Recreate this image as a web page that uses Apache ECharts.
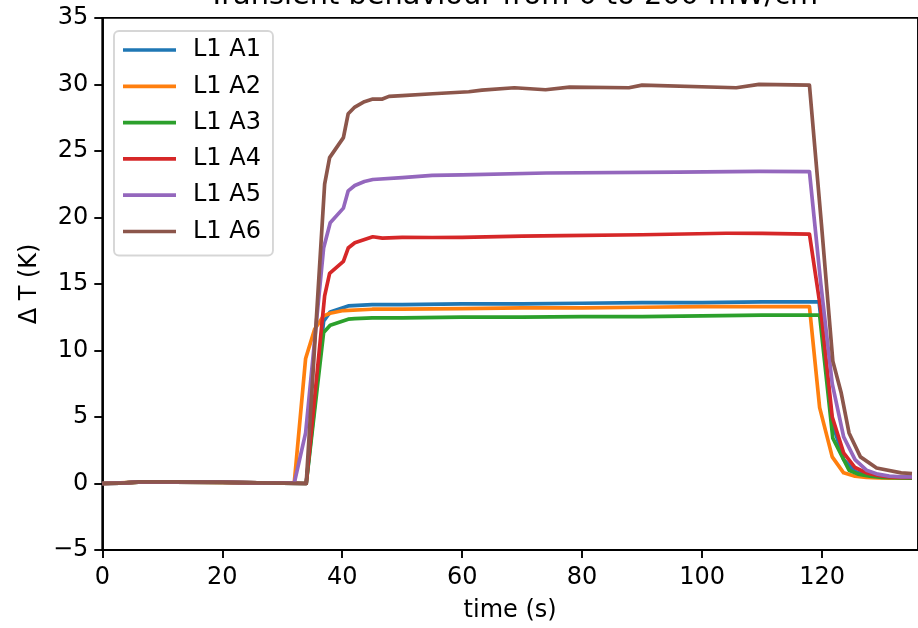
<!DOCTYPE html>
<html>
<head>
<meta charset="utf-8">
<script src="https://cdn.jsdelivr.net/npm/echarts@6/dist/echarts.min.js"></script>
<style>
html,body{margin:0;padding:0;background:#ffffff;}
#chart{width:918px;height:628px;}
</style>
</head>
<body>
<div id="chart"></div>
<script>
// ---- data ----
const titleText = 'Transient behaviour from 0 to 200 mW/cm\u00b2';
const seriesNames = ['L1 A1', 'L1 A2', 'L1 A3', 'L1 A4', 'L1 A5', 'L1 A6'];
const seriesColors = ['#1f77b4', '#ff7f0e', '#2ca02c', '#d62728', '#9467bd', '#8c564b'];
const xTicks = [0, 20, 40, 60, 80, 100, 120];
const yTicks = [-5, 0, 5, 10, 15, 20, 25, 30, 35];

const timeA1 = [0,3,6,12,20,26,30,34.0,36.9,38.0,41.0,45,50,60,70,80,90,100,110,119.5,121.7,123.6,125.5,127.4,129.3,131.2,133.1,135];
const valA1  = [0,0.02,0.1,0.1,0.08,0.04,0.02,0.0,12.2,12.9,13.35,13.45,13.45,13.5,13.5,13.55,13.6,13.6,13.65,13.65,4.6,1.8,0.9,0.6,0.5,0.45,0.42,0.4];

const timeA2 = [0,3,6,12,20,26,30,32.0,33.9,35.4,36.9,38.0,40.2,45,50,60,70,80,90,100,110,117.9,119.6,121.7,123.6,125.5,127.4,129.3,131.2,133.1,135];
const valA2  = [0,0.05,0.1,0.1,0.08,0.04,0.02,0.02,9.4,11.6,12.6,12.8,13.0,13.1,13.1,13.15,13.2,13.2,13.25,13.3,13.3,13.3,5.7,2.0,0.8,0.55,0.45,0.42,0.4,0.4,0.4];

const timeA3 = [0,3,6,12,20,26,30,34.0,36.9,38.0,41.0,42.1,45,50,60,70,80,90,100,110,119.6,121.8,124.5,126,128,130,133.1,135];
const valA3  = [0,0.02,0.1,0.1,0.08,0.04,0.02,0,11.35,11.9,12.35,12.4,12.45,12.45,12.5,12.5,12.55,12.55,12.6,12.65,12.65,3.4,1.0,0.7,0.55,0.45,0.42,0.4];

const timeA4 = [0,3,6,12,20,26,30,34.0,37.07,37.9,40.2,41.0,42.1,45.1,46.7,50,55,60,70,76.9,90,104,110,117.9,119.8,121.7,123.6,125.5,127.4,129.3,131.2,133.1,135];
const valA4  = [0,0.02,0.1,0.1,0.08,0.04,0.02,0,14.1,15.8,16.7,17.7,18.1,18.55,18.45,18.5,18.49,18.5,18.6,18.64,18.7,18.81,18.8,18.75,13.0,5.0,2.3,1.2,0.8,0.6,0.5,0.45,0.45];

const timeA5 = [0,3,6,12,20,26,30,32.0,33.9,36.9,38.0,40.2,41.0,42.1,43.7,45.1,50,55,60,74,96,109.5,117.9,119.8,121.7,123.6,125.5,127.4,129.3,131.2,133.1,135];
const valA5  = [0,0.02,0.12,0.12,0.1,0.05,0.02,0.02,3.8,17.7,19.6,20.7,22.0,22.4,22.7,22.85,23.0,23.16,23.2,23.34,23.4,23.46,23.45,15.0,7.5,3.5,1.8,1.0,0.7,0.55,0.5,0.5];

const timeA6 = [0,3,6,12,20,26,30,34.0,37.07,37.9,40.2,41.0,42.1,43.7,45.1,46.7,47.8,50,55.1,61.1,63.3,68.7,73.9,77.9,87.8,90,105.7,109.5,117.9,119.9,121.8,123.2,124.5,126.4,129.1,133.2,135];
const valA6  = [0,0.02,0.12,0.12,0.1,0.05,0.02,0,22.5,24.5,26.0,27.8,28.3,28.7,28.9,28.9,29.1,29.15,29.3,29.45,29.57,29.75,29.6,29.8,29.75,29.95,29.75,30.0,29.95,19.5,9.2,6.8,3.8,2.0,1.16,0.8,0.75];

const seriesTimes = [timeA1, timeA2, timeA3, timeA4, timeA5, timeA6];
const seriesValues = [valA1, valA2, valA3, valA4, valA5, valA6];

// ---- layout ----
const W = 918, H = 628;
const FONT = '"DejaVu Sans", "Liberation Sans", sans-serif';
const xMin = 0, xMax = 136;
const plotLeft = 102.3, plotTop = 17.9, plotBottomY = 554.3;
const pxPerUnit = 6.125;
const plotRight = plotLeft + (xMax - xMin) * pxPerUnit;
const plotCenterX = (plotLeft + plotRight) / 2;
const LINE_W = 3.7;

const series = seriesNames.map((name, i) => ({
  name: name,
  type: 'line',
  data: seriesTimes[i].map((t, k) => [t, seriesValues[i][k]]),
  symbol: 'none',
  showSymbol: false,
  smooth: false,
  lineStyle: { width: LINE_W, color: seriesColors[i], join: 'round', cap: 'butt' },
  itemStyle: { color: seriesColors[i] },
  emphasis: { disabled: true },
  z: 2 + i
}));

const chart = echarts.init(document.getElementById('chart'), null, { renderer: 'canvas', width: W, height: H });
chart.setOption({
  animation: false,
  backgroundColor: '#ffffff',
  grid: {
    left: plotLeft,
    top: plotTop,
    right: W - plotRight,
    bottom: H - plotBottomY,
    show: true,
    borderColor: '#000000',
    borderWidth: 1.9,
    backgroundColor: 'transparent',
    containLabel: false
  },
  xAxis: {
    type: 'value',
    min: xMin,
    max: xMax,
    interval: 20,
    name: 'time (s)',
    nameLocation: 'middle',
    nameGap: 49,
    nameTextStyle: { fontSize: 24, color: '#000', fontFamily: FONT, lineHeight: 24 },
    axisLine: { show: true, onZero: false, lineStyle: { color: '#000', width: 1.9 } },
    axisTick: { show: true, length: 8, inside: false, lineStyle: { color: '#000', width: 1.9 } },
    axisLabel: {
      margin: 16, fontSize: 24, color: '#000', fontFamily: FONT, lineHeight: 24,
      showMaxLabel: false,
      formatter: v => (xTicks.indexOf(v) >= 0 ? String(v) : '')
    },
    splitLine: { show: false }
  },
  yAxis: {
    type: 'value',
    min: yTicks[0],
    max: yTicks[yTicks.length - 1],
    interval: 5,
    name: '\u0394 T (K)',
    nameLocation: 'middle',
    nameGap: 59,
    nameRotate: 90,
    nameTextStyle: { fontSize: 24, color: '#000', fontFamily: FONT, lineHeight: 24 },
    axisLine: { show: true, onZero: false, lineStyle: { color: '#000', width: 1.9 } },
    axisTick: { show: true, length: 8, inside: false, lineStyle: { color: '#000', width: 1.9 } },
    axisLabel: {
      margin: 14, fontSize: 24, color: '#000', fontFamily: FONT, lineHeight: 24,
      formatter: v => (v < 0 ? '\u2212' + Math.abs(v) : String(v))
    },
    splitLine: { show: false }
  },
  legend: {
    show: true,
    orient: 'vertical',
    left: 114,
    top: 31,
    padding: [7, 12, 12, 9],
    itemGap: 12.3,
    itemWidth: 53,
    itemHeight: 24,
    icon: 'path://M0,0 L53,0 L53,3.7 L0,3.7 Z',
    symbolKeepAspect: true,
    backgroundColor: 'rgba(255,255,255,0.8)',
    borderColor: 'rgba(204,204,204,0.8)',
    borderWidth: 1.9,
    borderRadius: 5,
    selectedMode: false,
    textStyle: { fontSize: 24, color: '#000', fontFamily: FONT, lineHeight: 24, padding: [0, 0, 0, 12] },
    data: seriesNames
  },
  graphic: [{
    type: 'text',
    x: plotCenterX,
    y: -3.5,
    silent: true,
    style: {
      text: titleText,
      font: '28.8px ' + FONT,
      fill: '#000',
      align: 'center',
      verticalAlign: 'middle',
      textAlign: 'center',
      textVerticalAlign: 'middle'
    }
  }],
  series: series
});
</script>
</body>
</html>
